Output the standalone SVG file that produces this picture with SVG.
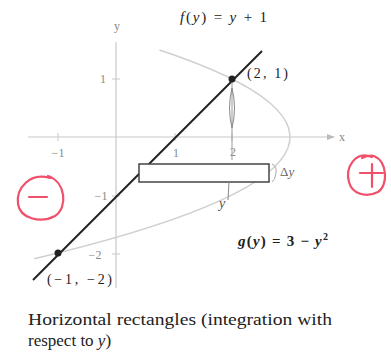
<svg xmlns="http://www.w3.org/2000/svg" width="391" height="356" viewBox="0 0 391 356">
<style>
.axis{stroke:#c8c8c8;stroke-width:1.2;fill:none}
.tick{stroke:#c8c8c8;stroke-width:1}
.tl{font-family:"Liberation Serif",serif;font-size:12px;fill:#888;text-anchor:middle}
.lbl{font-family:"Liberation Serif",serif}
.red{stroke:#f0506a;stroke-width:2.2;fill:none;stroke-linecap:round}
</style>
<defs>
<marker id="ah" markerWidth="8" markerHeight="6" refX="7" refY="3" orient="auto" markerUnits="userSpaceOnUse">
<path d="M0,0 L8,3 L0,6 Z" fill="#bbb"/>
</marker>
</defs>
<rect width="391" height="356" fill="#fff"/>
<g id="axes">
<line class="axis" x1="28" y1="137" x2="334" y2="137" marker-end="url(#ah)"/>
<line class="axis" x1="116" y1="288" x2="116" y2="42"/>
<line class="tick" x1="58" y1="133" x2="58" y2="141"/>
<line class="tick" x1="175" y1="133" x2="175" y2="141"/>
<line class="tick" x1="232" y1="133" x2="232" y2="141"/>
<line class="tick" x1="112" y1="79" x2="120" y2="79"/>
<line class="tick" x1="112" y1="196" x2="120" y2="196"/>
<line class="tick" x1="112" y1="254" x2="120" y2="254"/>
<text class="tl" x="117" y="30">y</text>
<text class="tl" x="342" y="141">x</text>
<text class="tl" x="58" y="157">−1</text>
<text class="tl" x="176" y="157">1</text>
<text class="tl" x="233" y="156">2</text>
<text class="tl" x="103" y="83">1</text>
<text class="tl" x="101" y="200">−1</text>
<text class="tl" x="95" y="259">−2</text>
</g>
<g id="parabola">
<path d="M159.5,50 Q472.7,154.4 34.2,258.8" fill="none" stroke="#cfcfcf" stroke-width="1.4"/>
</g>
<g id="line">
<line x1="33" y1="280" x2="262" y2="51" stroke="#222" stroke-width="2"/>
</g>
<g id="rectangle">
<rect x="139" y="164" width="130" height="18" fill="#fff" stroke="#444" stroke-width="1.5"/>
</g>
<g id="connectors">
<line x1="232" y1="80" x2="232" y2="160" stroke="#999" stroke-width="1"/>
<path d="M232,88 Q227,108 232,128 Q237,108 232,88" fill="none" stroke="#888" stroke-width="1"/>
<path d="M229,182 L228,200" stroke="#888" stroke-width="1" fill="none"/>
<path d="M272,164 Q277,166 276,173 Q275,180 272,182" fill="none" stroke="#aaa" stroke-width="1"/>
</g>
<g id="points">
<circle cx="232" cy="79" r="3.5" fill="#222"/>
<circle cx="58" cy="253" r="3.5" fill="#222"/>
</g>
<g id="labels">
<text class="lbl" x="180" y="22" style="font-size:15px" fill="#222" font-style="italic" textLength="87" lengthAdjust="spacing">f<tspan font-style="normal">(</tspan>y<tspan font-style="normal">) = </tspan>y<tspan font-style="normal"> + 1</tspan></text>
<text class="lbl" x="247" y="78" style="font-size:14px" fill="#222" textLength="41" lengthAdjust="spacing">(2, 1)</text>
<text class="lbl" x="47" y="284" style="font-size:14px" fill="#222" textLength="65" lengthAdjust="spacing">(−1, −2)</text>
<text class="lbl" x="238" y="246" style="font-size:15px" fill="#222" font-weight="bold" textLength="90" lengthAdjust="spacing"><tspan font-style="italic">g</tspan>(<tspan font-style="italic">y</tspan>) = 3 − <tspan font-style="italic">y</tspan><tspan style="font-size:10px" dy="-6">2</tspan></text>
<text class="lbl" x="280" y="176" style="font-size:13px" fill="#666">Δ<tspan font-style="italic">y</tspan></text>
<text class="lbl" x="219" y="208" style="font-size:14px" fill="#555" font-style="italic">y</text>
</g>
<g id="caption">
<text class="lbl" x="28" y="325" style="font-size:17px" fill="#222" textLength="304" lengthAdjust="spacingAndGlyphs">Horizontal rectangles (integration with</text>
<text class="lbl" x="28" y="346" style="font-size:17px" fill="#222">respect to <tspan font-style="italic">y</tspan>)</text>
</g>
<g id="annotations">
<path class="red" d="M50,178 C30,172 16,188 18,204 C20,218 40,224 55,216 C68,208 66,182 48,176"/>
<line class="red" x1="29" y1="197" x2="47" y2="197" stroke-width="2.6"/>
<path class="red" d="M372,157 C355,150 345,168 349,182 C352,194 366,198 378,192 C388,186 388,162 374,156 C370,155 366,156 362,158"/>
<line class="red" x1="360" y1="173" x2="383" y2="173" stroke-width="2.6"/>
<line class="red" x1="372" y1="164" x2="372" y2="187" stroke-width="2.6"/>
</g>
</svg>
